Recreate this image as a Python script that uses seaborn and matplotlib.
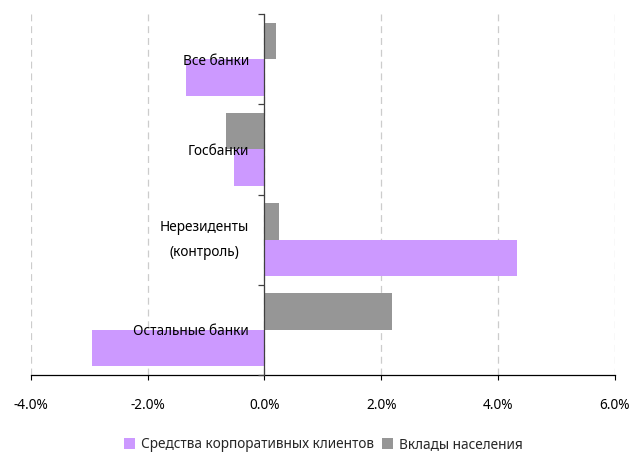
import matplotlib
matplotlib.use("Agg")
import matplotlib.pyplot as plt
from matplotlib.patches import Patch
from matplotlib.ticker import FixedLocator, FuncFormatter
import seaborn as sns
import pandas as pd

# Bank groups, top to bottom
categories = ["Все банки", "Госбанки", "Нерезиденты\n(контроль)", "Остальные банки"]

# Change, %
corporate = [-1.34, -0.52, 4.32, -2.95]   # Средства корпоративных клиентов
deposits = [0.20, -0.66, 0.25, 2.18]      # Вклады населения

series_names = ["Средства корпоративных клиентов", "Вклады населения"]
series_colors = {"Средства корпоративных клиентов": "#CC99FF",
                 "Вклады населения": "#969696"}

x_ticks = [-4, -2, 0, 2, 4, 6]

df = pd.DataFrame({
    "category": categories * 2,
    "value": corporate + deposits,
    "series": [series_names[0]] * len(categories) + [series_names[1]] * len(categories),
})

sns.set_theme(style="white")
plt.rcParams["font.family"] = ["Noto Sans", "DejaVu Sans"]
plt.rcParams["lines.scale_dashes"] = False

FS = 9.8

fig = plt.figure(figsize=(6.41, 4.54), dpi=100)
ax = fig.add_axes([30.7 / 641, 79 / 454, (615 - 30.7) / 641, (375 - 14) / 454])

# deposits bar sits above the corporate bar inside each group
sns.barplot(data=df, y="category", x="value", hue="series",
            order=categories, hue_order=[series_names[1], series_names[0]],
            palette=series_colors, orient="h", width=0.81, gap=0,
            saturation=1, legend=False, ax=ax, edgecolor="none")

ax.set_xlim(x_ticks[0], x_ticks[-1])
ax.set_ylim(len(categories) - 0.5, -0.5)
ax.set_xlabel("")
ax.set_ylabel("")

# x axis with dashed vertical grid behind the bars
ax.xaxis.set_major_locator(FixedLocator(x_ticks))
ax.xaxis.set_major_formatter(FuncFormatter(lambda v, _: f"{v:.1f}%"))
ax.tick_params(axis="x", which="major", direction="out", length=3.6, width=0.8,
               color="#000000", pad=13, labelsize=FS, labelcolor="#000000", bottom=True)
ax.grid(axis="x", color="#cccccc", linewidth=0.9, linestyle=(0, (5, 3.5)))
ax.grid(axis="y", visible=False)
ax.xaxis.set_zorder(0.5)

# y axis drawn along zero, its labels above the bars
ax.spines["left"].set_position(("data", 0))
ax.spines["left"].set_color("#404040")
ax.spines["left"].set_linewidth(0.9)
ax.spines["left"].set_zorder(3)
ax.spines["bottom"].set_color("#000000")
ax.spines["bottom"].set_linewidth(0.9)
ax.spines["top"].set_visible(False)
ax.spines["right"].set_visible(False)

ax.yaxis.set_major_locator(FixedLocator(range(len(categories))))
ax.set_yticklabels(categories)
ax.yaxis.set_minor_locator(FixedLocator([i - 0.5 for i in range(len(categories) + 1)]))
ax.tick_params(axis="y", which="major", length=0, pad=11, labelsize=FS,
               labelcolor="#000000", left=True)
ax.tick_params(axis="y", which="minor", direction="out", length=4.3, width=0.9,
               color="#404040", left=True)
for lbl in ax.get_yticklabels():
    lbl.set_multialignment("center")
    lbl.set_linespacing(1.9)
    if "\n" in lbl.get_text():
        lbl.set_verticalalignment("center")
ax.yaxis.set_zorder(5)

handles = [Patch(facecolor=series_colors[n], edgecolor="none") for n in series_names]
fig.legend(handles, series_names, loc="center", bbox_to_anchor=(0.504, 9 / 454),
           ncol=2, frameon=False, fontsize=FS, handlelength=0.85, handleheight=0.85,
           handletextpad=0.4, columnspacing=0.6, borderaxespad=0)

fig.savefig("out.png", dpi=100)
